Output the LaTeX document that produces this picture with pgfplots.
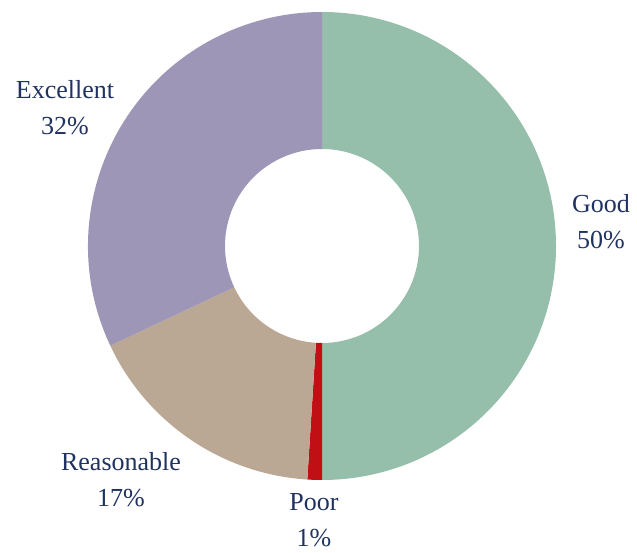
\documentclass[border=0pt]{standalone}
\usepackage{pgfplots}
\usepackage{pgfplotstable}
\pgfplotsset{compat=1.18}
\usetikzlibrary{calc}
\usepackage{fontspec}
\setmainfont{Liberation Serif}
\definecolor{cgood}{RGB}{149,190,171}
\definecolor{cpoor}{RGB}{192,16,22}
\definecolor{creas}{RGB}{186,168,149}
\definecolor{cexc}{RGB}{157,150,183}
\definecolor{ctext}{RGB}{31,50,96}

\pgfplotstableread{
label value
Good 50
Poor 1
Reasonable 17
Excellent 32
}\piedata

% #1 start angle, #2 end angle (already computed numbers), #3 colour
\newcommand\slice[3]{%
  \edef\slicecmd{\noexpand\fill[#3] ($(axis cs:322,306)+(#1:234pt)$) arc[start angle=#1,end angle=#2,radius=234pt]
    -- ($(axis cs:322,306)+(#2:97pt)$) arc[start angle=#2,end angle=#1,radius=97pt] -- cycle;}%
  \slicecmd
}

\begin{document}
\begin{tikzpicture}
\pgfplotstablegetelem{0}{value}\of\piedata \edef\vA{\pgfplotsretval}
\pgfplotstablegetelem{1}{value}\of\piedata \edef\vB{\pgfplotsretval}
\pgfplotstablegetelem{2}{value}\of\piedata \edef\vC{\pgfplotsretval}
\pgfplotstablegetelem{3}{value}\of\piedata \edef\vD{\pgfplotsretval}
\pgfmathsetmacro\aA{90}
\pgfmathsetmacro\aB{\aA-3.6*\vA}
\pgfmathsetmacro\aC{\aB-3.6*\vB}
\pgfmathsetmacro\aD{\aC-3.6*\vC}
\pgfmathsetmacro\aE{\aD-3.6*\vD}
\begin{axis}[
  x=1pt, y=1pt,
  xmin=0, xmax=637, ymin=0, ymax=552,
  hide axis, clip=false,
]
\path (axis cs:0,0) rectangle (axis cs:637,552);
\slice{\aA}{\aB}{cgood}
\slice{\aB}{\aC}{cpoor}
\slice{\aC}{\aD}{creas}
\slice{\aD}{\aE}{cexc}
\begin{scope}[every node/.style={align=center, inner sep=0pt, text=ctext, font=\fontsize{26}{36}\selectfont}]
\node at (axis cs:65,444) {Excellent\\32\%};
\node at (axis cs:601,330) {Good\\50\%};
\node at (axis cs:121,72) {Reasonable\\17\%};
\node at (axis cs:314,32) {Poor\\1\%};
\end{scope}
\end{axis}
\end{tikzpicture}
\end{document}
